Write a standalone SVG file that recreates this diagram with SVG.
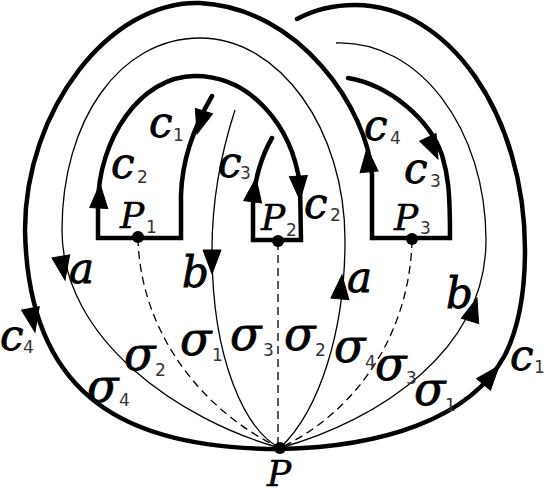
<svg xmlns="http://www.w3.org/2000/svg" width="545" height="493" viewBox="0 0 545 493">
<style>
.thick{fill:none;stroke:#000;stroke-width:4.5;stroke-linecap:round;stroke-linejoin:miter}
.thin{fill:none;stroke:#000;stroke-width:1.3}
.dash{fill:none;stroke:#000;stroke-width:1.3;stroke-dasharray:8,5}
.ah{fill:#000;stroke:#000;stroke-width:1;stroke-linejoin:miter}
.m{font-family:"DejaVu Serif",serif;font-style:italic;font-size:42px;fill:#000;stroke:#000;stroke-width:0.8}
.g{font-family:"DejaVu Serif",serif;font-style:italic;font-size:46px;fill:#000;stroke:#000;stroke-width:0.8}
.p{font-family:"DejaVu Serif",serif;font-style:italic;font-size:36px;fill:#000;stroke:#000;stroke-width:0.5}
.s{font-family:"DejaVu Sans",sans-serif;font-size:17px;fill:#333}
</style>
<rect width="545" height="493" fill="#fff"/>
<g id="connectors">
<path class="dash" d="M138,238 C140,330 200,410 280,448"/>
<path class="dash" d="M278,242 L278,448"/>
<path class="dash" d="M412,240 C410,330 360,410 280,448"/>
<path class="thin" d="M280,448 C180,420 62,340 62,230 C62,120 120,38 200,38 C280,38 345,130 345,240 C345,330 320,410 280,448"/>
<path class="thin" d="M280,448 C380,420 486,350 486,240 C486,130 420,40 336,43"/>
<path class="thin" d="M235,110 C222,150 212,200 212,250 C212,360 245,430 280,448"/>
<path class="thick" d="M348,78 C390,85 430,120 442,155 C448,175 450,190 450,238 L372,238 L372,175 C368,110 300,8 200,3 C110,0 25,110 25,230 C28,400 130,449 280,449"/>
<path class="thick" d="M280,449 C380,447 470,420 505,355 C520,325 525,290 525,250 C525,115 449,5 355,5 C330,5 310,12 297,19"/>
<path class="thick" d="M212,96 C195,125 182,160 181,195 L181,238 L98,238 L98,205 C98,140 140,76 195,76 C250,76 292,125 300,185 L301,240 L253,240 L253,205 C254,180 262,155 272,138"/>
<g id="arrowheads">
<path class="ah" d="M0,0 L-24,-9 L-24,9 Z" transform="translate(197,134) rotate(107)"/>
<path class="ah" d="M0,0 L-24,-9 L-24,9 Z" transform="translate(100,184) rotate(-87)"/>
<path class="ah" d="M0,0 L-24,-9 L-24,9 Z" transform="translate(300,200) rotate(86)"/>
<path class="ah" d="M0,0 L-24,-9 L-24,9 Z" transform="translate(256,178) rotate(-82)"/>
<path class="ah" d="M0,0 L-24,-9 L-24,9 Z" transform="translate(367,148) rotate(-95)"/>
<path class="ah" d="M0,0 L-24,-9 L-24,9 Z" transform="translate(438,159) rotate(65)"/>
<path class="ah" d="M0,0 L-24,-9 L-24,9 Z" transform="translate(35,332) rotate(79)"/>
<path class="ah" d="M0,0 L-24,-9 L-24,9 Z" transform="translate(499,366) rotate(-50)"/>
<path class="ah" d="M0,0 L-24,-9 L-24,9 Z" transform="translate(65,280) rotate(80)"/>
<path class="ah" d="M0,0 L-24,-9 L-24,9 Z" transform="translate(342,275) rotate(-85)"/>
<path class="ah" d="M0,0 L-24,-9 L-24,9 Z" transform="translate(212,274) rotate(90)"/>
<path class="ah" d="M0,0 L-24,-9 L-24,9 Z" transform="translate(477,298) rotate(-73)"/>
</g>
</g>
<g id="P1">
<circle cx="138" cy="237" r="6"/>
<text class="p" x="120" y="228">P</text><text class="s" x="146" y="233">1</text>
</g>
<g id="P2">
<circle cx="278" cy="241" r="6"/>
<text class="p" x="261" y="230">P</text><text class="s" x="286" y="236">2</text>
</g>
<g id="P3">
<circle cx="412" cy="239" r="6"/>
<text class="p" x="394" y="230">P</text><text class="s" x="420" y="234">3</text>
</g>
<g id="P">
<circle cx="280" cy="448" r="6"/>
<text class="p" x="267" y="486">P</text>
</g>
<g id="labels">
<text class="m" x="149" y="137">c</text><text class="s" x="173" y="141">1</text>
<text class="m" x="111" y="178">c</text><text class="s" x="137" y="183">2</text>
<text class="m" x="218" y="177">c</text><text class="s" x="240" y="179">3</text>
<text class="m" x="304" y="218">c</text><text class="s" x="330" y="221">2</text>
<text class="m" x="364" y="140">c</text><text class="s" x="390" y="144">4</text>
<text class="m" x="404" y="183">c</text><text class="s" x="430" y="187">3</text>
<text class="m" x="0" y="350">c</text><text class="s" x="23" y="353">4</text>
<text class="m" x="510" y="370">c</text><text class="s" x="534" y="373">1</text>
<text class="m" x="69" y="283">a</text>
<text class="m" x="182" y="287">b</text>
<text class="m" x="347" y="292">a</text>
<text class="m" x="446" y="308">b</text>
<text class="g" x="124" y="370">σ</text><text class="s" x="155" y="376">2</text>
<text class="g" x="87" y="402">σ</text><text class="s" x="119" y="406">4</text>
<text class="g" x="180" y="355">σ</text><text class="s" x="212" y="361">1</text>
<text class="g" x="230" y="350">σ</text><text class="s" x="263" y="356">3</text>
<text class="g" x="284" y="350">σ</text><text class="s" x="315" y="356">2</text>
<text class="g" x="334" y="362">σ</text><text class="s" x="365" y="368">4</text>
<text class="g" x="375" y="380">σ</text><text class="s" x="406" y="384">3</text>
<text class="g" x="414" y="405">σ</text><text class="s" x="445" y="411">1</text>
</g>
</svg>
